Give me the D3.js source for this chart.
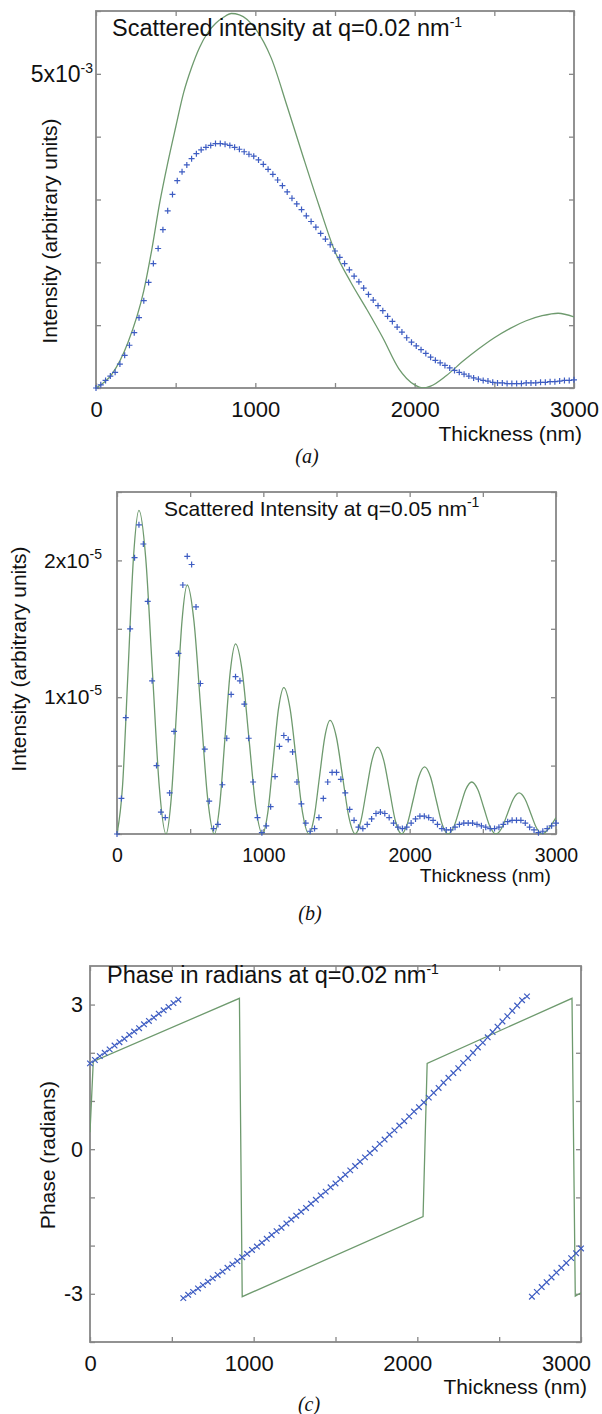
<!DOCTYPE html>
<html>
<head>
<meta charset="utf-8">
<script src="https://cdn.jsdelivr.net/npm/d3@7"></script>
<style>
  body { margin: 0; background: #fff; }
  text { font-family: "Liberation Sans", Arial, sans-serif; fill: #111; }
  .caption { font-family: "Liberation Serif", "Times New Roman", serif; font-style: italic; }
</style>
</head>
<body>
<svg id="chart" width="602" height="1414"></svg>
<script>
// thickness grid of the simulated points (nm)
const thickness = [
  0, 30, 60, 90, 120, 150, 180, 210, 240, 270,
  300, 330, 360, 390, 420, 450, 480, 510, 540, 570,
  600, 630, 660, 690, 720, 750, 780, 810, 840, 870,
  900, 930, 960, 990, 1020, 1050, 1080, 1110, 1140, 1170,
  1200, 1230, 1260, 1290, 1320, 1350, 1380, 1410, 1440, 1470,
  1500, 1530, 1560, 1590, 1620, 1650, 1680, 1710, 1740, 1770,
  1800, 1830, 1860, 1890, 1920, 1950, 1980, 2010, 2040, 2070,
  2100, 2130, 2160, 2190, 2220, 2250, 2280, 2310, 2340, 2370,
  2400, 2430, 2460, 2490, 2520, 2550, 2580, 2610, 2640, 2670,
  2700, 2730, 2760, 2790, 2820, 2850, 2880, 2910, 2940, 2970,
  3000
];
const xTicks = [0, 500, 1000, 1500, 2000, 2500, 3000];

// (a) intensity at q=0.02, units of 1e-3
const pointsA = [
  0.00, 0.05, 0.12, 0.19, 0.25, 0.38, 0.52, 0.68, 0.88, 1.12,
  1.39, 1.68, 1.98, 2.22, 2.52, 2.82, 3.08, 3.30, 3.44, 3.55,
  3.65, 3.73, 3.79, 3.83, 3.86, 3.89, 3.89, 3.88, 3.86, 3.83,
  3.80, 3.76, 3.72, 3.69, 3.63, 3.56, 3.48, 3.40, 3.31, 3.22,
  3.12, 3.02, 2.93, 2.84, 2.74, 2.65, 2.56, 2.46, 2.37, 2.28,
  2.18, 2.08, 1.98, 1.88, 1.78, 1.69, 1.59, 1.49, 1.40, 1.31,
  1.23, 1.14, 1.06, 0.97, 0.89, 0.80, 0.73, 0.67, 0.61, 0.55,
  0.49, 0.44, 0.40, 0.36, 0.32, 0.28, 0.25, 0.22, 0.19, 0.16,
  0.14, 0.12, 0.11, 0.09, 0.08, 0.08, 0.07, 0.07, 0.07, 0.07,
  0.08, 0.08, 0.08, 0.09, 0.09, 0.10, 0.10, 0.11, 0.12, 0.12,
  0.13
];
const curveAx = [0, 100, 200, 300, 350, 400, 450, 500, 550, 600, 650, 700, 750, 800, 850, 900, 1000, 1100,
  1200, 1300, 1400, 1500, 1600, 1700, 1800, 1900, 2000, 2050, 2100, 2200, 2300, 2400, 2500, 2600, 2700,
  2800, 2900, 3000];
const curveAy = [0, 0.22, 0.72, 1.55, 2.2, 2.95, 3.58, 4.15, 4.7, 5.1, 5.42, 5.65, 5.8, 5.9, 5.96, 5.94, 5.72, 5.25,
  4.48, 3.68, 2.9, 2.17, 1.68, 1.25, 0.8, 0.31, 0.05, 0, 0.03, 0.2, 0.42, 0.62, 0.8, 0.95, 1.07,
  1.15, 1.19, 1.13];
const yTicksA = [0, 1, 2, 3, 4, 5, 6];
const yLabelsA = [{ v: 5, base: "5x10", exp: "-3" }];

// (b) intensity at q=0.05, units of 1e-5
const pointsB = [
  0, 0.26, 0.85, 1.5, 2.02, 2.26, 2.12, 1.7, 1.12, 0.5,
  0.16, 0.12, 0.3, 0.75, 1.32, 1.82, 2.03, 1.97, 1.66, 1.1,
  0.62, 0.24, 0.04, 0.07, 0.36, 0.7, 1.02, 1.15, 1.12, 0.95,
  0.7, 0.38, 0.12, 0.01, 0.06, 0.2, 0.42, 0.64, 0.72, 0.69,
  0.6, 0.38, 0.22, 0.08, 0.02, 0.04, 0.12, 0.26, 0.38, 0.45,
  0.45, 0.4, 0.3, 0.18, 0.1, 0.05, 0.04, 0.07, 0.11, 0.15,
  0.16, 0.15, 0.12, 0.08, 0.05, 0.04, 0.05, 0.08, 0.11, 0.13,
  0.13, 0.12, 0.1, 0.07, 0.04, 0.03, 0.03, 0.05, 0.07, 0.08,
  0.08, 0.08, 0.07, 0.06, 0.05, 0.04, 0.04, 0.05, 0.07, 0.09,
  0.1, 0.1, 0.1, 0.08, 0.05, 0.03, 0.01, 0.02, 0.04, 0.06,
  0.08
];
const curveBx = [0, 37.5, 75, 112.5, 150, 196, 242.5, 289, 335,
  371, 407.5, 444, 480, 526, 572.5, 619, 665,
  701, 737.5, 774, 810, 856, 902, 948, 994,
  1030.5, 1067, 1103.5, 1140, 1183, 1225.5, 1268, 1311,
  1347, 1383.5, 1420, 1456, 1499, 1542, 1585, 1628,
  1666, 1704.5, 1743, 1781, 1822, 1862.5, 1903, 1944,
  1983.5, 2023, 2062.5, 2102, 2142, 2182, 2222, 2262,
  2302.5, 2343, 2383.5, 2424, 2465.5, 2507, 2548.5, 2590,
  2629.5, 2669, 2708.5, 2748, 2788, 2827.5, 2867, 2907,
  2950, 3000];
const curveBy = [0, 0.345, 1.18, 2.02, 2.365, 2.02, 1.18, 0.345, 0,
  0.266, 0.91, 1.554, 1.82, 1.554, 0.91, 0.266, 0,
  0.203, 0.695, 1.187, 1.39, 1.187, 0.695, 0.203, 0,
  0.156, 0.535, 0.914, 1.07, 0.914, 0.535, 0.156, 0,
  0.121, 0.415, 0.709, 0.83, 0.709, 0.415, 0.121, 0,
  0.093, 0.318, 0.542, 0.635, 0.542, 0.318, 0.093, 0,
  0.072, 0.245, 0.418, 0.49, 0.418, 0.245, 0.072, 0,
  0.055, 0.19, 0.325, 0.38, 0.325, 0.19, 0.055, 0,
  0.044, 0.15, 0.256, 0.30, 0.256, 0.15, 0.044, 0,
  0.04, 0.12];
const yTicksB = [0, 0.5, 1, 1.5, 2, 2.5];
const yLabelsB = [{ v: 1, base: "1x10", exp: "-5" }, { v: 2, base: "2x10", exp: "-5" }];

// (c) phase at q=0.02 (radians)
const pointsC = [
  1.78, 1.85, 1.93, 2.00, 2.07, 2.15, 2.22, 2.29, 2.37, 2.44,
  2.51, 2.59, 2.66, 2.73, 2.81, 2.88, 2.95, 3.03, 3.10, -3.09,
  -3.02, -2.96, -2.89, -2.82, -2.75, -2.68, -2.61, -2.54, -2.46, -2.39,
  -2.32, -2.24, -2.17, -2.09, -2.02, -1.94, -1.86, -1.78, -1.70, -1.63,
  -1.54, -1.46, -1.38, -1.30, -1.22, -1.13, -1.05, -0.96, -0.88, -0.79,
  -0.71, -0.62, -0.53, -0.44, -0.35, -0.26, -0.17, -0.08, 0.01, 0.11,
  0.20, 0.30, 0.39, 0.49, 0.58, 0.68, 0.78, 0.87, 0.97, 1.07,
  1.17, 1.27, 1.38, 1.48, 1.58, 1.68, 1.79, 1.89, 2.00, 2.11,
  2.21, 2.32, 2.43, 2.54, 2.65, 2.76, 2.87, 2.98, 3.09, 3.17,
  -3.06, -2.96, -2.86, -2.76, -2.66, -2.56, -2.46, -2.36, -2.26, -2.16,
  -2.06
];
const curveCx = [0, 20, 913, 930, 2035, 2060, 2945, 2965, 3000];
const curveCy = [0.35, 1.82, 3.13, -3.06, -1.40, 1.78, 3.13, -3.05, -2.98];
const yTicksC = [-4, -3, -2, -1, 0, 1, 2, 3];
const yLabelsC = [{ v: 3, base: "3" }, { v: 0, base: "0" }, { v: -3, base: "-3" }];

const greenColor = "#6e9a6e";
const blueColor = "#3d5cc2";
const frameColor = "#878787";
const plusMark = "M-3,0H3M0,-3V3";
const crossMark = "M-2.8,-2.8L2.8,2.8M-2.8,2.8L2.8,-2.8";

const svg = d3.select("#chart");

function drawPanel(p) {
  const x = d3.scaleLinear().domain([0, 3000]).range([p.left, p.right]);
  const y = d3.scaleLinear().domain(p.yDomain).range([p.bottom, p.top]);
  const g = svg.append("g");

  const clipId = "clip-" + p.id;
  g.append("clipPath").attr("id", clipId)
    .append("rect")
    .attr("x", p.left).attr("y", p.top)
    .attr("width", p.right - p.left).attr("height", p.bottom - p.top);

  // bottom axis, labels every 1000
  const bottom = g.append("g")
    .attr("transform", `translate(0,${p.bottom})`)
    .call(d3.axisBottom(x).tickValues(xTicks).tickSize(-5).tickPadding(p.xPad)
      .tickFormat(d => d % 1000 === 0 ? d : ""));
  bottom.selectAll(".tick text").attr("font-size", p.tickFont)
    .attr("dx", d => -d / 3000 * p.labelDrift);

  // top and right axes: ticks only
  g.append("g").attr("transform", `translate(0,${p.top})`)
    .call(d3.axisTop(x).tickValues(xTicks).tickSize(-5).tickFormat(""));
  g.append("g").attr("transform", `translate(${p.right},0)`)
    .call(d3.axisRight(y).tickValues(p.yTicks).tickSize(-5).tickFormat(""));

  // left axis with powers of ten
  const left = g.append("g")
    .attr("transform", `translate(${p.left},0)`)
    .call(d3.axisLeft(y).tickValues(p.yTicks).tickSize(-5).tickPadding(p.yPad));
  left.selectAll(".tick text").attr("font-size", p.yTickFont).each(function(d) {
    const lab = p.yLabels.find(l => Math.abs(l.v - d) < 1e-9);
    const t = d3.select(this).text("");
    if (!lab) return;
    t.append("tspan").text(lab.base);
    if (lab.exp) t.append("tspan").attr("dy", -9).attr("font-size", 14).text(lab.exp);
  });

  g.selectAll(".domain").remove();
  g.selectAll(".tick line").attr("stroke", frameColor).attr("stroke-width", 1.3);

  // frame
  g.append("rect")
    .attr("x", p.left).attr("y", p.top)
    .attr("width", p.right - p.left).attr("height", p.bottom - p.top)
    .attr("fill", "none").attr("stroke", frameColor).attr("stroke-width", 1.8);

  // analytic curve
  const line = d3.line().x(d => x(d[0])).y(d => y(d[1])).curve(p.curve);
  g.append("path")
    .datum(p.curveX.map((t, i) => [t, p.curveY[i]]))
    .attr("clip-path", `url(#${clipId})`)
    .attr("d", line)
    .attr("fill", "none").attr("stroke", greenColor).attr("stroke-width", 1.3);

  // simulated points
  g.selectAll(".pt")
    .data(thickness.map((t, i) => [t, p.points[i]]))
    .enter().append("path")
    .attr("class", "pt")
    .attr("d", p.marker)
    .attr("transform", d => `translate(${x(d[0])},${y(d[1])})`)
    .attr("fill", "none").attr("stroke", blueColor).attr("stroke-width", 1.2);

  // title inside frame
  const title = g.append("text").attr("x", p.titleX).attr("y", p.titleY).attr("font-size", p.titleFont);
  title.append("tspan").text(p.title);
  title.append("tspan").attr("dy", -9).attr("font-size", 14).text("-1");

  // axis titles
  g.append("text")
    .attr("x", p.xLabelX).attr("y", p.xLabelY)
    .attr("text-anchor", "end").attr("font-size", p.xLabelFont)
    .text("Thickness (nm)");
  g.append("text")
    .attr("transform", `translate(${p.yLabelX},${p.yLabelY}) rotate(-90)`)
    .attr("text-anchor", "middle").attr("font-size", 21)
    .text(p.yLabel);

  // caption
  g.append("text").attr("class", "caption")
    .attr("x", p.capX).attr("y", p.capY)
    .attr("text-anchor", "middle").attr("font-size", 20)
    .text(p.caption);
}

drawPanel({
  id: "a", left: 96, right: 574, top: 11, bottom: 388,
  yDomain: [0, 6], yTicks: yTicksA, yLabels: yLabelsA, yPad: 3, labelDrift: 0,
  tickFont: 22, yTickFont: 23, xPad: 13, xLabelFont: 21, titleFont: 23.5,
  points: pointsA, curveX: curveAx, curveY: curveAy, curve: d3.curveMonotoneX, marker: plusMark,
  title: "Scattered intensity at q=0.02 nm", titleX: 112, titleY: 36,
  xLabelX: 582, xLabelY: 441, yLabel: "Intensity (arbitrary units)", yLabelX: 57, yLabelY: 231,
  caption: "(a)", capX: 307, capY: 463
});

drawPanel({
  id: "b", left: 117, right: 556, top: 492, bottom: 834,
  yDomain: [0, 2.5], yTicks: yTicksB, yLabels: yLabelsB, yPad: 15, labelDrift: 0,
  tickFont: 19.5, yTickFont: 21, xPad: 14, xLabelFont: 19.2, titleFont: 21,
  points: pointsB, curveX: curveBx, curveY: curveBy, curve: d3.curveMonotoneX, marker: plusMark,
  title: "Scattered Intensity at q=0.05 nm", titleX: 164, titleY: 516,
  xLabelX: 551, xLabelY: 882, yLabel: "Intensity (arbitrary units)", yLabelX: 26, yLabelY: 659,
  caption: "(b)", capX: 310, capY: 920
});

drawPanel({
  id: "c", left: 90, right: 581, top: 966, bottom: 1342,
  yDomain: [-4, 3.8], yTicks: yTicksC, yLabels: yLabelsC, yPad: 7, labelDrift: 15,
  tickFont: 22, yTickFont: 21.5, xPad: 13, xLabelFont: 21, titleFont: 23.5,
  points: pointsC, curveX: curveCx, curveY: curveCy, curve: d3.curveLinear, marker: crossMark,
  title: "Phase in radians at q=0.02 nm", titleX: 107, titleY: 983,
  xLabelX: 587, xLabelY: 1394, yLabel: "Phase (radians)", yLabelX: 55, yLabelY: 1155,
  caption: "(c)", capX: 309, capY: 1411
});
</script>
</body>
</html>
